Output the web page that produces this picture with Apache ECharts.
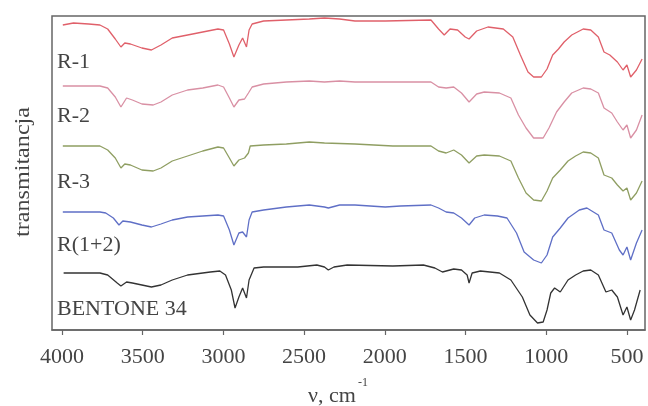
<!DOCTYPE html>
<html>
<head>
<meta charset="utf-8">
<script src="https://cdn.jsdelivr.net/npm/echarts@6/dist/echarts.min.js"></script>
<style>html,body{margin:0;padding:0;background:#fff;}#c{width:648px;height:406px;}</style>
</head>
<body>
<div id="c"></div>
<script>
// Wavenumber tick labels (cm^-1)
const xTicks = [4000, 3500, 3000, 2500, 2000, 1500, 1000, 500];
const seriesNames = ['R-1', 'R-2', 'R-3', 'R(1+2)', 'BENTONE 34'];
const seriesColors = ['#e0606a', '#d990a4', '#8f9e62', '#5f6fc6', '#333333'];

// [wavenumber, transmittance (arbitrary, offset-stacked)]
const r1 = [[3995,305],[3929,307],[3835,306],[3765,305],[3717,301],[3670,291],[3635,283],[3611,287],[3576,286],[3505,282],[3446,280],[3387,285],[3317,292],[3222,295],[3128,298],[3034,301],[2999,300],[2963,286],[2935,273],[2904,285],[2881,292],[2857,283],[2841,300],[2822,306],[2751,309],[2610,310],[2468,311],[2374,312],[2280,311],[2185,309],[1997,309],[1714,310],[1667,301],[1632,295],[1596,301],[1549,300],[1502,293],[1478,291],[1431,299],[1361,303],[1266,301],[1207,293],[1160,275],[1113,258],[1078,253],[1030,253],[995,261],[960,275],[924,281],[889,288],[842,295],[771,301],[724,300],[677,293],[642,278],[606,275],[559,268],[524,260],[500,265],[477,253],[441,260],[406,271]];
const r2 = [[3995,244],[3765,244],[3717,242],[3670,233],[3635,223],[3600,232],[3564,230],[3505,226],[3435,225],[3387,228],[3317,235],[3222,240],[3128,242],[3034,245],[2999,243],[2963,232],[2935,223],[2904,230],[2869,231],[2845,237],[2822,243],[2751,246],[2610,248],[2468,249],[2374,248],[2280,249],[2185,248],[1997,248],[1714,248],[1667,243],[1620,242],[1573,243],[1525,237],[1478,228],[1431,236],[1384,238],[1290,237],[1219,232],[1172,215],[1125,202],[1078,192],[1019,192],[983,202],[936,218],[889,228],[842,237],[771,242],[724,241],[677,237],[642,222],[594,217],[559,208],[524,200],[500,205],[477,192],[441,200],[406,215]];
const r3 = [[3995,184],[3765,184],[3717,180],[3670,172],[3635,162],[3611,166],[3576,165],[3505,160],[3435,159],[3387,162],[3317,169],[3222,174],[3128,179],[3034,183],[2999,182],[2963,172],[2935,164],[2904,170],[2869,172],[2845,177],[2834,184],[2751,185],[2610,186],[2468,188],[2374,187],[2185,186],[1950,184],[1714,184],[1667,179],[1620,177],[1573,180],[1525,175],[1478,167],[1431,174],[1384,175],[1290,174],[1219,169],[1172,152],[1125,137],[1078,130],[1030,129],[995,139],[960,152],[913,160],[865,169],[818,174],[771,178],[724,177],[677,172],[642,155],[594,152],[559,145],[524,139],[500,142],[477,130],[441,137],[406,149]];
const r12 = [[3995,118],[3765,118],[3729,117],[3682,112],[3647,105],[3623,109],[3576,108],[3505,105],[3446,103],[3387,106],[3317,110],[3222,113],[3128,114],[3034,115],[2999,114],[2963,100],[2935,85],[2904,97],[2881,98],[2857,93],[2841,110],[2822,118],[2751,120],[2610,123],[2468,125],[2374,123],[2350,122],[2280,125],[2185,125],[1997,123],[1903,124],[1714,125],[1667,122],[1620,118],[1573,117],[1525,112],[1478,105],[1443,112],[1384,115],[1302,114],[1243,112],[1184,97],[1137,78],[1078,70],[1030,67],[995,75],[960,93],[913,102],[865,112],[795,120],[748,122],[677,115],[642,100],[594,97],[547,80],[524,75],[500,83],[477,70],[441,87],[406,100]];
const bentone = [[3990,57],[3765,57],[3717,55],[3658,47],[3635,44],[3600,48],[3564,47],[3505,45],[3446,43],[3387,45],[3317,50],[3222,55],[3081,58],[3022,59],[2987,55],[2951,40],[2928,22],[2904,33],[2881,42],[2857,32],[2841,50],[2810,62],[2751,63],[2539,63],[2421,65],[2374,63],[2350,60],[2315,63],[2233,65],[1950,64],[1761,65],[1690,62],[1643,58],[1573,61],[1525,60],[1490,55],[1478,47],[1459,57],[1408,59],[1290,57],[1219,50],[1148,33],[1101,15],[1054,7],[1019,8],[995,20],[972,37],[948,42],[913,38],[865,50],[818,55],[771,59],[724,60],[677,55],[630,38],[594,40],[559,33],[524,15],[500,23],[477,10],[453,20],[418,40]];

const allData = [r1, r2, r3, r12, bentone];
const serif = '"Liberation Serif", "DejaVu Serif", serif';
const labelPos = [[57, 62], [57, 116], [57, 182], [57, 245], [57, 309]];

const chart = echarts.init(document.getElementById('c'), null, {renderer: 'canvas'});
chart.setOption({
  animation: false,
  backgroundColor: '#ffffff',
  grid: {left: 52, right: 3, top: 16, bottom: 76, show: true, borderColor: '#666', borderWidth: 1.5, backgroundColor: 'transparent'},
  xAxis: {
    type: 'value', inverse: true, min: 388, max: 4062,
    axisLine: {show: true, lineStyle: {color: '#666', width: 1.5}},
    axisTick: {show: true, length: 5, inside: false, customValues: xTicks, lineStyle: {color: '#666', width: 1.2}},
    axisLabel: {customValues: xTicks, margin: 16, fontFamily: serif, fontSize: 22, color: '#444',
      formatter: v => String(v)},
    splitLine: {show: false}
  },
  yAxis: {
    type: 'value', min: 0, max: 314,
    axisLine: {show: false}, axisTick: {show: false}, axisLabel: {show: false}, splitLine: {show: false}
  },
  series: allData.map((d, i) => ({
    name: seriesNames[i], type: 'line', data: d, showSymbol: false, symbol: 'none',
    lineStyle: {color: seriesColors[i], width: 1.3}, smooth: false
  })),
  graphic: [
    ...seriesNames.map((n, i) => ({
      type: 'text', x: labelPos[i][0], y: labelPos[i][1],
      style: {text: n, font: '22px ' + serif, fill: '#444', verticalAlign: 'middle'}
    })),
    {type: 'text', x: 23, y: 172, rotation: Math.PI / 2, scaleX: 1.15,
     style: {text: 'transmitancja', font: '21px ' + serif, fill: '#444', align: 'center', verticalAlign: 'middle'}},
    {type: 'text', x: 308, y: 396, style: {text: 'ν, cm', font: '22px ' + serif, fill: '#444', verticalAlign: 'middle'}},
    {type: 'text', x: 358, y: 383, style: {text: '-1', font: '12px ' + serif, fill: '#444', verticalAlign: 'middle'}}
  ]
});
</script>
</body>
</html>
